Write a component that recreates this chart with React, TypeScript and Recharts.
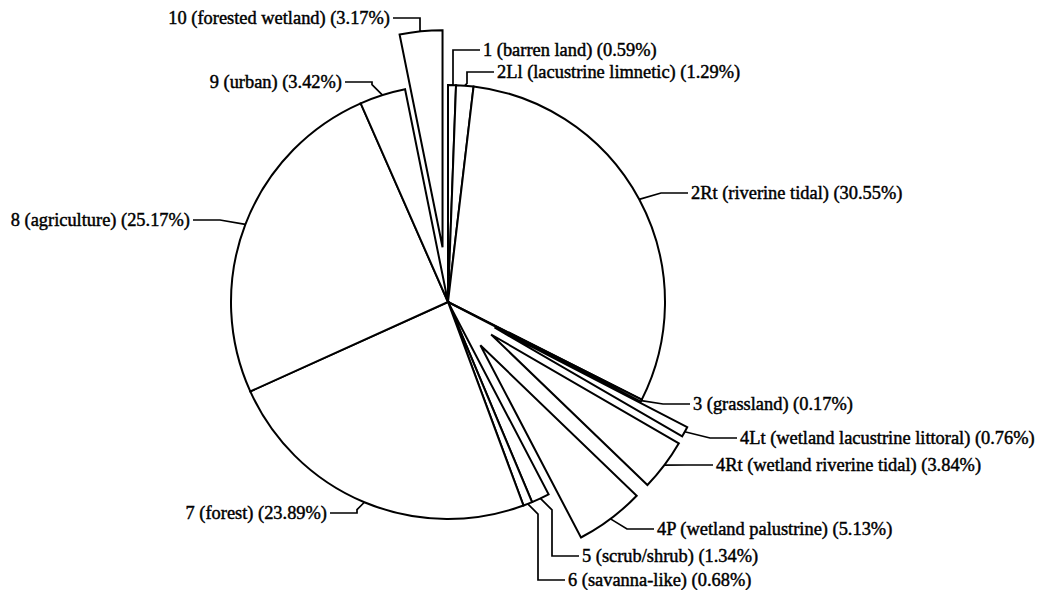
import React from "react";
import { PieChart, Pie, Cell, Sector } from "recharts";

// land cover classes, clockwise from 12 o'clock
const classCodes = ["1", "2Ll", "2Rt", "3", "4Lt", "4Rt", "4P", "5", "6", "7", "8", "9", "10"];
const classNames = [
  "barren land",
  "lacustrine limnetic",
  "riverine tidal",
  "grassland",
  "wetland lacustrine littoral",
  "wetland riverine tidal",
  "wetland palustrine",
  "scrub/shrub",
  "savanna-like",
  "forest",
  "agriculture",
  "urban",
  "forested wetland",
];
const areaShares = [0.59, 1.29, 30.55, 0.17, 0.76, 3.84, 5.13, 1.34, 0.68, 23.89, 25.17, 3.42, 3.17];

// how far a slice is pulled out of the pie, px
const pullOut = [0, 0, 0, 0, 53, 54, 54, 0, 0, 0, 0, 0, 55];
// leader elbow x, label row y, and which side the text goes
const labelSpots = [
  { ex: 453, y: 50, side: "right" },
  { ex: 467, y: 72, side: "right" },
  { ex: 661, y: 193, side: "right" },
  { ex: 663, y: 404, side: "right" },
  { ex: 710, y: 438, side: "right" },
  { ex: 686, y: 465, side: "right" },
  { ex: 627, y: 529, side: "right" },
  { ex: 552, y: 556, side: "right" },
  { ex: 538, y: 580, side: "right" },
  { ex: 357, y: 513, side: "left" },
  { ex: 220, y: 220, side: "left" },
  { ex: 372, y: 82, side: "left" },
  { ex: 420, y: 18, side: "left" },
];

const rows = classCodes.map((code, i) => ({ code, name: classNames[i], value: areaShares[i] }));

const RAD = Math.PI / 180;
const polar = (cx: number, cy: number, r: number, a: number) => ({
  x: cx + r * Math.cos(-a * RAD),
  y: cy + r * Math.sin(-a * RAD),
});

function SliceLabel(props: any) {
  const { cx, cy, outerRadius, startAngle, endAngle, midAngle, index } = props;
  const d = pullOut[index];
  const shift = polar(0, 0, d, midAngle);
  const ox = cx + shift.x;
  const oy = cy + shift.y;
  const start = polar(ox, oy, outerRadius, midAngle);
  const { ex, y, side } = labelSpots[index];
  const right = side === "right";
  const run = 27;
  const dx = Math.abs(ex - start.x);
  const dy = Math.max(-dx, Math.min(dx, y - start.y));
  const endX = right ? ex + run : ex - run;
  const pts = [
    [start.x, start.y],
    [ex, start.y + dy],
    [ex, y],
    [endX, y],
  ]
    .map((p) => p.join(","))
    .join(" ");
  const row = rows[index];
  return (
    <g>
      {d > 0 && (
        <Sector
          cx={ox}
          cy={oy}
          innerRadius={0}
          outerRadius={outerRadius}
          startAngle={startAngle}
          endAngle={endAngle}
          fill="#fff"
          stroke="#000"
          strokeWidth={2}
        />
      )}
      <polyline points={pts} fill="none" stroke="#000" strokeWidth={1.7} />
      <text
        x={right ? endX + 3 : endX - 3}
        y={y}
        textAnchor={right ? "start" : "end"}
        dominantBaseline="central"
        fontFamily="'Liberation Serif', 'Times New Roman', serif"
        fontSize={18.4}
        fill="#000"
        stroke="#000"
        strokeWidth={0.45}
      >
        {`${row.code} (${row.name}) (${row.value.toFixed(2)}%)`}
      </text>
    </g>
  );
}

export default function App() {
  return (
    <div style={{ position: "absolute", left: 0, top: 0, background: "#fff" }}>
      <PieChart width={1049} height={590} margin={{ top: 0, right: 0, bottom: 0, left: 0 }}>
        <Pie
          data={rows}
          dataKey="value"
          nameKey="code"
          cx={448}
          cy={302}
          innerRadius={0}
          outerRadius={217}
          startAngle={90}
          endAngle={-270}
          stroke="#000"
          strokeWidth={2}
          label={SliceLabel}
          labelLine={false}
          isAnimationActive={false}
        >
          {rows.map((r, i) => (
            <Cell
              key={r.code}
              fill={pullOut[i] > 0 ? "none" : "#fff"}
              stroke={pullOut[i] > 0 ? "none" : "#000"}
            />
          ))}
        </Pie>
      </PieChart>
    </div>
  );
}
